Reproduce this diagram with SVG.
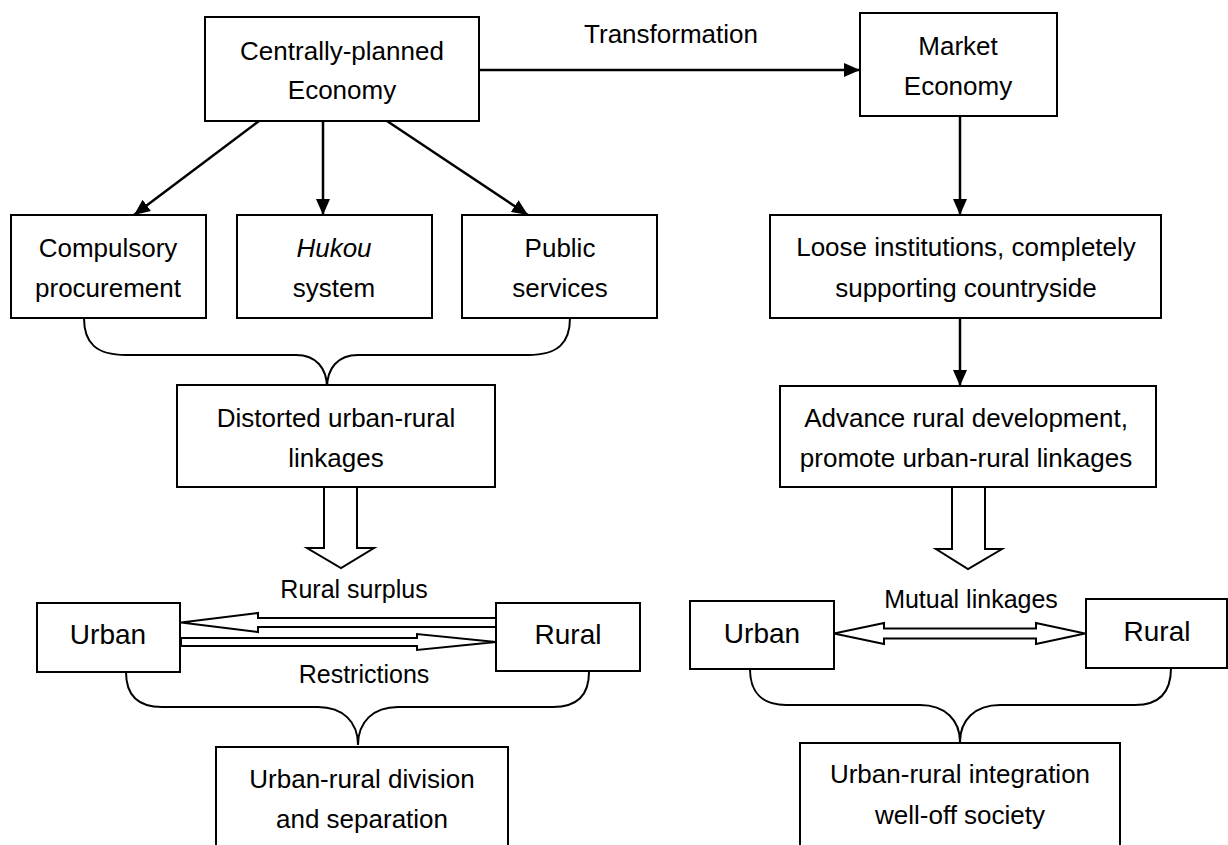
<svg xmlns="http://www.w3.org/2000/svg" width="1228" height="845" viewBox="0 0 1228 845">
<style>
.box{fill:#fff;stroke:#000;stroke-width:2}
.t{font-family:"Liberation Sans",Arial,sans-serif;font-size:26px;fill:#000;text-anchor:middle}
.big{font-size:28px}
.lbl{font-size:25px}
.ln{stroke:#000;stroke-width:2.5;fill:none}
.br{stroke:#000;stroke-width:2;fill:none}
.ho{fill:#fff;stroke:#000;stroke-width:2;stroke-linejoin:miter}
</style>
<defs>
<marker id="ah" markerUnits="userSpaceOnUse" markerWidth="16" markerHeight="14" refX="16" refY="7" orient="auto">
<path d="M0,0 L16,7 L0,14 z" fill="#000"/>
</marker>
</defs>
<rect width="1228" height="845" fill="#fff"/>
<g id="connectors">
<line class="ln" x1="479" y1="70" x2="860" y2="70" marker-end="url(#ah)"/>
<line class="ln" x1="259" y1="121" x2="134" y2="215" marker-end="url(#ah)"/>
<line class="ln" x1="323" y1="121" x2="323" y2="215" marker-end="url(#ah)"/>
<line class="ln" x1="387" y1="121" x2="528" y2="215" marker-end="url(#ah)"/>
<line class="ln" x1="960" y1="116" x2="960" y2="215" marker-end="url(#ah)"/>
<line class="ln" x1="960" y1="318" x2="960" y2="386" marker-end="url(#ah)"/>
<path class="br" d="M84,318 C84,343 96,355 126,355 L296,355 C316,355 327,368 327,388 C327,368 338,355 358,355 L528,355 C558,355 570,343 570,318"/>
<path class="ho" d="M324,487 L357,487 L357,548 L374,548 L341,568 L307,548 L324,548 Z"/>
<path class="ho" d="M181,622.5 L258,613 L258,618 L496,618 L496,627 L258,627 L258,632 Z"/>
<path class="ho" d="M181,638 L417,638 L417,634 L496,642 L417,650 L417,646 L181,646 Z"/>
<path class="br" d="M126,672 C126,695 138,707 162,707 L318,707 C343,707 358,722 358,745 C358,722 373,707 398,707 L553,707 C577,707 589,695 589,672"/>
<path class="ho" d="M952,487 L985,487 L985,549 L1002,549 L968,569 L936,549 L952,549 Z"/>
<path class="ho" d="M834,633.5 L884,623 L884,628.5 L1036,628.5 L1036,623 L1085,633.5 L1036,644 L1036,638.5 L884,638.5 L884,644 Z"/>
<path class="br" d="M750,669 C750,692 762,705 786,705 L920,705 C945,705 960,720 960,742 C960,720 975,705 1000,705 L1135,705 C1159,705 1171,692 1171,668"/>
</g>
<g id="transformation-label"><text class="t" x="671" y="43" font-size="29">Transformation</text></g>
<g id="centrally-planned"><rect class="box" x="205" y="17" width="274" height="104"/><text class="t" x="342" y="60">Centrally-planned</text><text class="t" x="342" y="99">Economy</text></g>
<g id="market"><rect class="box" x="860" y="13" width="197" height="103"/><text class="t" x="958" y="55">Market</text><text class="t" x="958" y="95">Economy</text></g>
<g id="compulsory"><rect class="box" x="11" y="215" width="195" height="103"/><text class="t" x="108" y="257">Compulsory</text><text class="t" x="108" y="297">procurement</text></g>
<g id="hukou"><rect class="box" x="237" y="215" width="195" height="103"/><text class="t" x="334" y="257" font-style="italic">Hukou</text><text class="t" x="334" y="297">system</text></g>
<g id="public"><rect class="box" x="462" y="215" width="195" height="103"/><text class="t" x="560" y="257">Public</text><text class="t" x="560" y="297">services</text></g>
<g id="loose"><rect class="box" x="770" y="215" width="391" height="103"/><text class="t" x="966" y="256">Loose institutions, completely</text><text class="t" x="966" y="297">supporting countryside</text></g>
<g id="distorted"><rect class="box" x="177" y="385" width="318" height="102"/><text class="t" x="336" y="427">Distorted urban-rural</text><text class="t" x="336" y="467">linkages</text></g>
<g id="advance"><rect class="box" x="780" y="386" width="376" height="101"/><text class="t" x="966" y="427">Advance rural development,</text><text class="t" x="966" y="467">promote urban-rural linkages</text></g>
<g id="label-rural-surplus"><text class="t lbl" x="354" y="598">Rural surplus</text></g>
<g id="label-restrictions"><text class="t lbl" x="364" y="683">Restrictions</text></g>
<g id="label-mutual"><text class="t lbl" x="971" y="608">Mutual linkages</text></g>
<g id="urban-left"><rect class="box" x="37" y="603" width="143" height="69"/><text class="t big" x="108" y="644">Urban</text></g>
<g id="rural-left"><rect class="box" x="496" y="603" width="144" height="68"/><text class="t big" x="568" y="644">Rural</text></g>
<g id="urban-right"><rect class="box" x="690" y="601" width="144" height="68"/><text class="t big" x="762" y="643">Urban</text></g>
<g id="rural-right"><rect class="box" x="1086" y="599" width="141" height="69"/><text class="t big" x="1157" y="641">Rural</text></g>
<g id="division"><rect class="box" x="216" y="747" width="292" height="110"/><text class="t" x="362" y="788">Urban-rural division</text><text class="t" x="362" y="828">and separation</text></g>
<g id="integration"><rect class="box" x="800" y="743" width="320" height="110"/><text class="t" x="960" y="783">Urban-rural integration</text><text class="t" x="960" y="824">well-off society</text></g>
</svg>
